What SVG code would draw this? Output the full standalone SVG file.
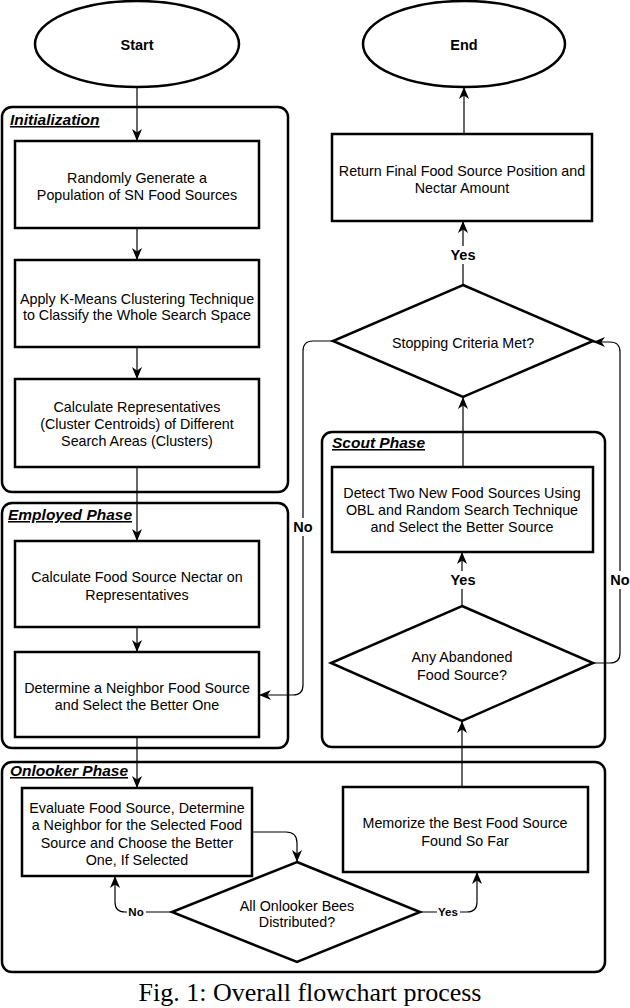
<svg xmlns="http://www.w3.org/2000/svg" width="630" height="1008" viewBox="0 0 630 1008">
<style>
.box{fill:#fff;stroke:#000;stroke-width:2.5}
.cont{fill:none;stroke:#000;stroke-width:2.5}
.conn{fill:none;stroke:#000;stroke-width:1.2}
.t{font-family:"Liberation Sans",Arial,sans-serif;font-size:14.3px;text-anchor:middle;dominant-baseline:central;fill:#000}
.b{font-family:"Liberation Sans",Arial,sans-serif;font-size:14.5px;font-weight:bold;text-anchor:middle;dominant-baseline:central;fill:#000}
.sb{font-family:"Liberation Sans",Arial,sans-serif;font-size:11.5px;font-weight:bold;text-anchor:middle;dominant-baseline:central;fill:#000}
.lbl{font-family:"Liberation Sans",Arial,sans-serif;font-size:15.5px;font-weight:bold;font-style:italic;text-decoration:underline;fill:#000}
.cap{font-family:"Liberation Serif","Times New Roman",serif;font-size:26px;text-anchor:middle;fill:#000}
</style>
<defs>
<marker id="arr" markerUnits="userSpaceOnUse" markerWidth="12" markerHeight="12" viewBox="0 0 10 10" refX="10" refY="5" orient="auto">
<path d="M0,0.8 L10,5 L0,9.2 L3,5 z" fill="#000"/>
</marker>
</defs>

<g id="containers">
<rect id="init-phase" class="cont" x="2" y="107" width="286" height="385" rx="10"/>
<text class="lbl" x="10" y="125">Initialization</text>
<rect id="employed-phase" class="cont" x="2" y="503" width="286" height="245" rx="10"/>
<text class="lbl" x="8" y="520">Employed Phase</text>
<rect id="scout-phase" class="cont" x="322" y="432" width="283" height="315" rx="10"/>
<text class="lbl" x="332" y="448">Scout Phase</text>
<rect id="onlooker-phase" class="cont" x="2" y="762" width="603" height="210" rx="10"/>
<text class="lbl" x="10" y="776">Onlooker Phase</text>
</g>

<g id="connectors">
<path class="conn" d="M137,87 V141" marker-end="url(#arr)"/>
<path class="conn" d="M137,228 V260" marker-end="url(#arr)"/>
<path class="conn" d="M137,347 V379" marker-end="url(#arr)"/>
<path class="conn" d="M137,467 V541" marker-end="url(#arr)"/>
<path class="conn" d="M137,627 V652" marker-end="url(#arr)"/>
<path class="conn" d="M137,737 V788" marker-end="url(#arr)"/>
<path class="conn" d="M252,832 H286 Q297,832 297,843 V862" marker-end="url(#arr)"/>
<path class="conn" d="M172,912 H125 Q115,912 115,902 V876" marker-end="url(#arr)"/>
<path class="conn" d="M420,912 H467 Q477,912 477,902 V872" marker-end="url(#arr)"/>
<path class="conn" d="M462,787 V721" marker-end="url(#arr)"/>
<path class="conn" d="M462,606 V552" marker-end="url(#arr)"/>
<path class="conn" d="M463,467 V397" marker-end="url(#arr)"/>
<path class="conn" d="M463,285 V221" marker-end="url(#arr)"/>
<path class="conn" d="M464,134 V87" marker-end="url(#arr)"/>
<path class="conn" d="M333,341 H313 Q303,341 303,351 V685 Q303,695 293,695 H259" marker-end="url(#arr)"/>
<path class="conn" d="M593,663 H610 Q620,663 620,653 V352 Q620,342 610,342 H593" marker-end="url(#arr)"/>
<rect x="448" y="246" width="30" height="18" fill="#fff"/>
<text class="b" x="463" y="255">Yes</text>
<rect x="448" y="571" width="30" height="18" fill="#fff"/>
<text class="b" x="463" y="580">Yes</text>
<rect x="291" y="518" width="24" height="18" fill="#fff"/>
<text class="b" x="303" y="527">No</text>
<rect x="608" y="571" width="22" height="18" fill="#fff"/>
<text class="b" x="620" y="580">No</text>
<rect x="127" y="905" width="19" height="14" fill="#fff"/>
<text class="sb" x="136" y="912">No</text>
<rect x="437" y="905" width="23" height="14" fill="#fff"/>
<text class="sb" x="448" y="912">Yes</text>
</g>

<g id="start">
<ellipse class="box" cx="137" cy="44" rx="102" ry="43"/>
<text class="b" x="137" y="45">Start</text>
</g>
<g id="end">
<ellipse class="box" cx="464" cy="44" rx="101" ry="43"/>
<text class="b" x="464" y="45">End</text>
</g>

<g id="random-generate">
<rect class="box" x="15" y="141" width="244" height="87"/>
<text class="t" x="137" y="178">Randomly Generate a</text>
<text class="t" x="137" y="195">Population of SN Food Sources</text>
</g>
<g id="kmeans">
<rect class="box" x="15" y="260" width="244" height="87"/>
<text class="t" x="137" y="299">Apply K-Means Clustering Technique</text>
<text class="t" x="137" y="315">to Classify the Whole Search Space</text>
</g>
<g id="representatives">
<rect class="box" x="15" y="379" width="244" height="88"/>
<text class="t" x="137" y="407">Calculate Representatives</text>
<text class="t" x="137" y="424">(Cluster Centroids) of Different</text>
<text class="t" x="137" y="441">Search Areas (Clusters)</text>
</g>
<g id="nectar">
<rect class="box" x="15" y="541" width="244" height="86"/>
<text class="t" x="137" y="577">Calculate Food Source Nectar on</text>
<text class="t" x="137" y="595">Representatives</text>
</g>
<g id="neighbor">
<rect class="box" x="15" y="652" width="244" height="85"/>
<text class="t" x="137" y="688">Determine a Neighbor Food Source</text>
<text class="t" x="137" y="705">and Select the Better One</text>
</g>
<g id="evaluate">
<rect class="box" x="22" y="788" width="230" height="88"/>
<text class="t" x="137" y="808">Evaluate Food Source, Determine</text>
<text class="t" x="137" y="825">a Neighbor for the Selected Food</text>
<text class="t" x="137" y="843">Source and Choose the Better</text>
<text class="t" x="137" y="860">One, If Selected</text>
</g>
<g id="all-distributed">
<polygon class="box" points="297,862 420,912 297,962 172,912"/>
<text class="t" x="297" y="906">All Onlooker Bees</text>
<text class="t" x="297" y="922">Distributed?</text>
</g>
<g id="memorize">
<rect class="box" x="343" y="787" width="245" height="85"/>
<text class="t" x="465" y="823">Memorize the Best Food Source</text>
<text class="t" x="465" y="841">Found So Far</text>
</g>
<g id="abandoned">
<polygon class="box" points="462,606 593,663 462,721 331,663"/>
<text class="t" x="462" y="657">Any Abandoned</text>
<text class="t" x="462" y="675">Food Source?</text>
</g>
<g id="detect">
<rect class="box" x="332" y="467" width="261" height="85"/>
<text class="t" x="462" y="493">Detect Two New Food Sources Using</text>
<text class="t" x="462" y="510">OBL and Random Search Technique</text>
<text class="t" x="462" y="527">and Select the Better Source</text>
</g>
<g id="stopping">
<polygon class="box" points="463,285 593,341 463,397 333,341"/>
<text class="t" x="463" y="343">Stopping Criteria Met?</text>
</g>
<g id="return">
<rect class="box" x="332" y="134" width="260" height="87"/>
<text class="t" x="462" y="171">Return Final Food Source Position and</text>
<text class="t" x="462" y="188">Nectar Amount</text>
</g>

<text class="cap" x="310" y="1001">Fig. 1: Overall flowchart process</text>
</svg>
